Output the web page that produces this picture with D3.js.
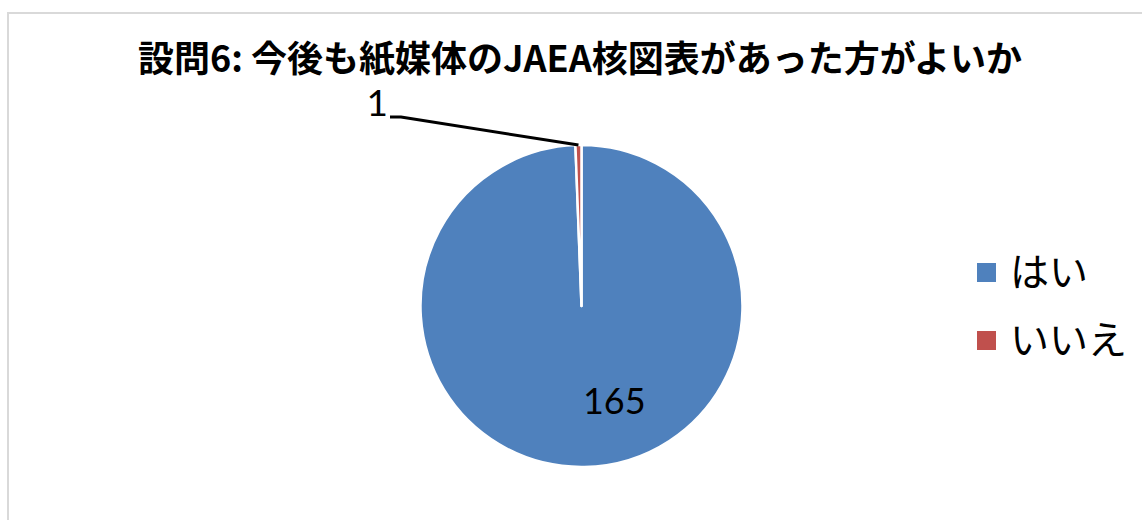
<!DOCTYPE html>
<html>
<head>
<meta charset="utf-8">
<script src="https://cdn.jsdelivr.net/npm/d3@7"></script>
<style>
  html, body { margin: 0; padding: 0; background: #fff; }
  svg { display: block; }
</style>
</head>
<body>
<svg id="chart" width="1142" height="520"></svg>
<script>
// Survey answers for question 6
const title = "設問6: 今後も紙媒体のJAEA核図表があった方がよいか";
const categories = ["はい", "いいえ"];
const values = [165, 1];
const colors = ["#4f81bd", "#c0504d"];

const W = 1142, H = 520;
const svg = d3.select("#chart");

// chart area frame
svg.append("rect")
  .attr("x", 8).attr("y", 13)
  .attr("width", W + 40).attr("height", H + 40)
  .attr("fill", "#fff")
  .attr("stroke", "#d9d9d9").attr("stroke-width", 2);

// title
svg.append("text")
  .attr("x", 580).attr("y", 72)
  .attr("text-anchor", "middle")
  .attr("font-family", "'Noto Sans CJK JP', sans-serif")
  .attr("font-weight", "bold")
  .attr("font-size", 36)
  .attr("fill", "#000")
  .text(title);

// pie
const cx = 581.5, cy = 306, R = 161;
const pie = d3.pie().sort(null).value(d => d.value);
const arcs = pie(categories.map((c, i) => ({ cat: c, value: values[i], color: colors[i] })));
const arc = d3.arc().innerRadius(0).outerRadius(R);

const g = svg.append("g").attr("transform", `translate(${cx},${cy})`);
g.selectAll("path.slice")
  .data(arcs)
  .join("path")
  .attr("class", "slice")
  .attr("d", arc)
  .attr("fill", d => d.data.color)
  .attr("stroke", "#fff")
  .attr("stroke-width", 2.5)
  .attr("stroke-linejoin", "round");

const labelFont = "Lato, 'Open Sans', sans-serif";

// inside label for the large slice
const big = arcs[0];
const bigAngle = (big.startAngle + big.endAngle) / 2 - 0.32;
const bigR = R * 0.63;
g.append("text")
  .attr("x", bigR * Math.sin(bigAngle) - 1)
  .attr("y", -bigR * Math.cos(bigAngle) + 12)
  .attr("text-anchor", "middle")
  .attr("font-family", labelFont)
  .attr("font-size", 36)
  .attr("fill", "#000")
  .text(values[0]);

// outside label for the small slice, with leader line
const small = arcs[1];
const sAngle = (small.startAngle + small.endAngle) / 2;
const edge = [R * Math.sin(sAngle), -R * Math.cos(sAngle)];
const elbow = [-180.5, -189];
g.append("polyline")
  .attr("points", [[elbow[0] - 11, elbow[1]], elbow, edge].map(p => p.join(",")).join(" "))
  .attr("fill", "none")
  .attr("stroke", "#000")
  .attr("stroke-width", 3);
g.append("text")
  .attr("x", elbow[0] - 13)
  .attr("y", elbow[1] - 1)
  .attr("text-anchor", "end")
  .attr("font-family", labelFont)
  .attr("font-size", 37)
  .attr("fill", "#000")
  .text(values[1]);

// legend
const legend = svg.append("g").attr("transform", "translate(977,263)");
const items = legend.selectAll("g")
  .data(categories)
  .join("g")
  .attr("transform", (d, i) => `translate(0,${i * 68})`);
items.append("rect")
  .attr("width", 19).attr("height", 19)
  .attr("fill", (d, i) => colors[i]);
items.append("text")
  .attr("x", 33).attr("y", 23)
  .attr("font-family", "'Noto Sans CJK JP', sans-serif")
  .attr("font-size", 39)
  .attr("fill", "#000")
  .text(d => d);
</script>
</body>
</html>
